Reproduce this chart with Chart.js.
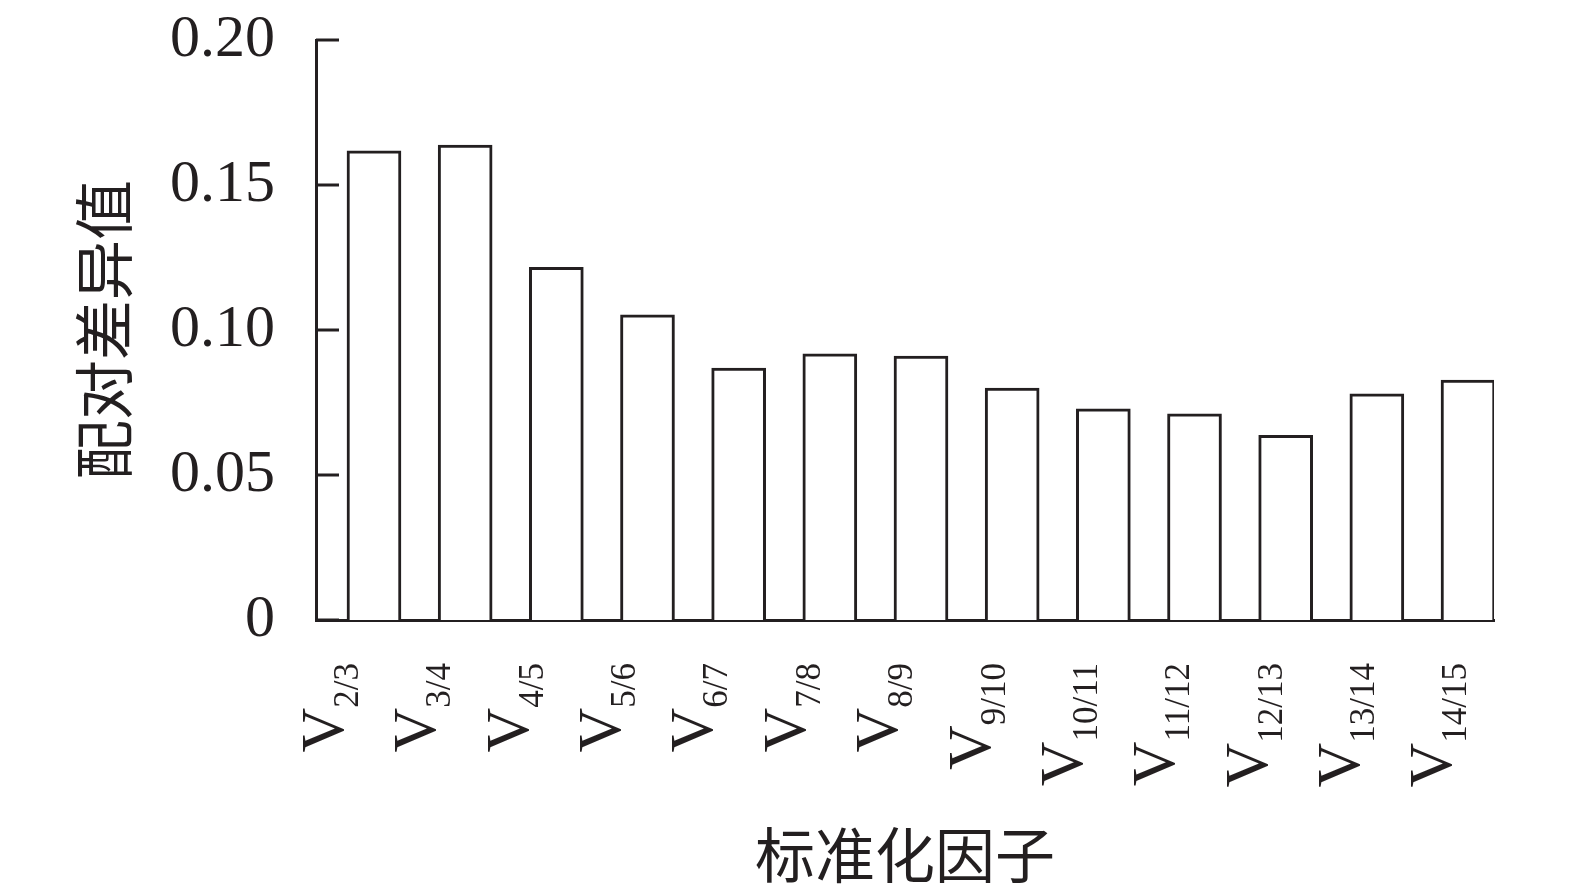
<!DOCTYPE html>
<html>
<head>
<meta charset="utf-8">
<script src="https://cdn.jsdelivr.net/npm/chart.js@4.4.0/dist/chart.umd.min.js"></script>
<style>
  html, body { margin: 0; padding: 0; background: #fff; }
  #chart { display: block; }
</style>
</head>
<body>
<canvas id="chart" width="1575" height="894"></canvas>
<script>
// subscripts of the V labels, one per bar
const categories = ['2/3', '3/4', '4/5', '5/6', '6/7', '7/8', '8/9', '9/10', '10/11', '11/12', '12/13', '13/14', '14/15'];
// pairwise difference values
const values = [0.1618, 0.1638, 0.1216, 0.1052, 0.0869, 0.0918, 0.0910, 0.0800, 0.0728, 0.0711, 0.0637, 0.0780, 0.0827];
const yTicks = [0, 0.05, 0.10, 0.15, 0.20];
const yTickLabels = ['0', '0.05', '0.10', '0.15', '0.20'];

const ink = '#231f20';
const serif = '"Liberation Serif", "Times New Roman", serif';
const cjk = '"Noto Sans CJK SC", sans-serif';

// inward tick marks and the rotated V labels with subscripts
const axisExtras = {
  id: 'axisExtras',
  afterDraw(chart) {
    const ctx = chart.ctx;
    const xs = chart.scales.x;
    const ys = chart.scales.y;
    const area = chart.chartArea;
    ctx.save();
    ctx.strokeStyle = ink;
    ctx.lineWidth = 3;
    yTicks.forEach(v => {
      const py = ys.getPixelForValue(v);
      ctx.beginPath();
      ctx.moveTo(area.left, py);
      ctx.lineTo(area.left + 23, py);
      ctx.stroke();
    });

    ctx.fillStyle = ink;
    ctx.textAlign = 'right';
    ctx.textBaseline = 'alphabetic';
    categories.forEach((sub, i) => {
      const base = xs.getPixelForValue(i) - 31 + 1.2 * i;
      ctx.save();
      ctx.translate(base, area.bottom + 43);
      ctx.rotate(-Math.PI / 2);
      ctx.font = '35px ' + serif;
      const w = ctx.measureText(sub).width;
      ctx.fillText(sub, 0, 15);
      ctx.font = '62px ' + serif;
      ctx.fillText('V', -w, 0);
      ctx.restore();
    });
    ctx.restore();
  }
};

new Chart(document.getElementById('chart'), {
  type: 'bar',
  data: {
    datasets: [{
      data: values.map((v, i) => ({ x: i, y: v })),
      backgroundColor: '#ffffff',
      borderColor: ink,
      borderWidth: 3,
      barThickness: 54
    }]
  },
  options: {
    responsive: false,
    animation: false,
    layout: { padding: { top: 40, right: 81, left: 0, bottom: 0 } },
    plugins: {
      legend: { display: false },
      tooltip: { enabled: false }
    },
    scales: {
      x: {
        type: 'linear',
        offset: false,
        min: -0.636,
        max: 12.285,
        grid: { display: false, drawTicks: false },
        ticks: { display: false },
        border: { display: true, width: 3, color: ink },
        title: {
          display: true,
          text: '标准化因子',
          color: ink,
          font: { family: cjk, size: 60 },
          padding: { top: 0, bottom: 3 }
        },
        afterFit(scale) {
          scale.height = 274;
          scale.paddingLeft = 0;
          scale.paddingRight = 0;
        }
      },
      y: {
        min: 0,
        max: 0.2,
        afterBuildTicks(scale) {
          scale.ticks = yTicks.map(v => ({ value: v }));
        },
        grid: { display: false, drawTicks: false },
        border: { display: true, width: 3, color: ink },
        ticks: {
          color: ink,
          padding: 41,
          font: { family: serif, size: 60 },
          callback: (value, index) => yTickLabels[index]
        },
        title: {
          display: true,
          text: '配对差异值',
          color: ink,
          font: { family: cjk, size: 60 },
          padding: { top: 68, bottom: 0 }
        },
        afterFit(scale) {
          scale.width = 316;
          scale.paddingTop = 0;
          scale.paddingBottom = 0;
        }
      }
    }
  },
  plugins: [axisExtras]
});
</script>
</body>
</html>
